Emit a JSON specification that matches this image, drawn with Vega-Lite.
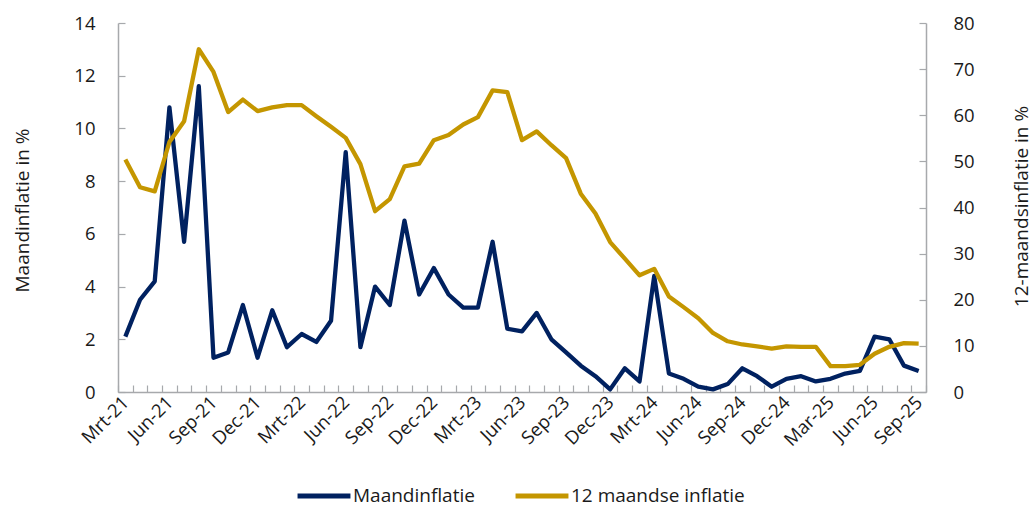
{
  "$schema": "https://vega.github.io/schema/vega-lite/v6.json",
  "autosize": {"type": "none"},
  "width": 808,
  "height": 369,
  "padding": {"left": 118, "top": 23, "right": 109, "bottom": 115},
  "background": "white",
  "config": {
    "view": {"stroke": null},
    "font": "Open Sans",
    "axis": {
      "labelFont": "Open Sans",
      "titleFont": "Open Sans",
      "labelFontSize": 18.5,
      "titleFontSize": 19,
      "labelColor": "#1a1a1a",
      "titleColor": "#1a1a1a",
      "titleFontWeight": "normal",
      "domainColor": "#a7a9ac",
      "domainWidth": 1.5,
      "tickColor": "#a7a9ac",
      "tickWidth": 1.2,
      "grid": false
    },
    "legend": {
      "labelFont": "Open Sans",
      "labelFontSize": 19,
      "labelColor": "#1a1a1a",
      "labelLimit": 400
    }
  },
  "data": {
    "values": [
      {"maand": "Mrt-21", "m": 2.1, "j": 50.4},
      {"maand": "Apr-21", "m": 3.5, "j": 44.4},
      {"maand": "Mei-21", "m": 4.2, "j": 43.5},
      {"maand": "Jun-21", "m": 10.8, "j": 54.2},
      {"maand": "Jul-21", "m": 5.7, "j": 58.7},
      {"maand": "Aug-21", "m": 11.6, "j": 74.3},
      {"maand": "Sep-21", "m": 1.3, "j": 69.4},
      {"maand": "Okt-21", "m": 1.5, "j": 60.7},
      {"maand": "Nov-21", "m": 3.3, "j": 63.4},
      {"maand": "Dec-21", "m": 1.3, "j": 60.9},
      {"maand": "Jan-22", "m": 3.1, "j": 61.7},
      {"maand": "Feb-22", "m": 1.7, "j": 62.2},
      {"maand": "Mrt-22", "m": 2.2, "j": 62.2},
      {"maand": "Apr-22", "m": 1.9, "j": 59.8},
      {"maand": "Mei-22", "m": 2.7, "j": 57.5},
      {"maand": "Jun-22", "m": 9.1, "j": 55.1},
      {"maand": "Jul-22", "m": 1.7, "j": 49.4},
      {"maand": "Aug-22", "m": 4.0, "j": 39.2},
      {"maand": "Sep-22", "m": 3.3, "j": 41.8},
      {"maand": "Okt-22", "m": 6.5, "j": 48.9},
      {"maand": "Nov-22", "m": 3.7, "j": 49.5},
      {"maand": "Dec-22", "m": 4.7, "j": 54.6},
      {"maand": "Jan-23", "m": 3.7, "j": 55.7},
      {"maand": "Feb-23", "m": 3.2, "j": 58.0},
      {"maand": "Mrt-23", "m": 3.2, "j": 59.6},
      {"maand": "Apr-23", "m": 5.7, "j": 65.4},
      {"maand": "Mei-23", "m": 2.4, "j": 65.0},
      {"maand": "Jun-23", "m": 2.3, "j": 54.6},
      {"maand": "Jul-23", "m": 3.0, "j": 56.5},
      {"maand": "Aug-23", "m": 2.0, "j": 53.5},
      {"maand": "Sep-23", "m": 1.5, "j": 50.7},
      {"maand": "Okt-23", "m": 1.0, "j": 43.0},
      {"maand": "Nov-23", "m": 0.6, "j": 38.7},
      {"maand": "Dec-23", "m": 0.1, "j": 32.5},
      {"maand": "Jan-24", "m": 0.9, "j": 28.9},
      {"maand": "Feb-24", "m": 0.4, "j": 25.3},
      {"maand": "Mrt-24", "m": 4.4, "j": 26.7},
      {"maand": "Apr-24", "m": 0.7, "j": 20.7},
      {"maand": "Mei-24", "m": 0.5, "j": 18.4},
      {"maand": "Jun-24", "m": 0.2, "j": 16.0},
      {"maand": "Jul-24", "m": 0.1, "j": 12.8},
      {"maand": "Aug-24", "m": 0.3, "j": 11.0},
      {"maand": "Sep-24", "m": 0.9, "j": 10.3},
      {"maand": "Okt-24", "m": 0.6, "j": 9.9},
      {"maand": "Nov-24", "m": 0.2, "j": 9.4},
      {"maand": "Dec-24", "m": 0.5, "j": 9.9},
      {"maand": "Jan-25", "m": 0.6, "j": 9.8},
      {"maand": "Feb-25", "m": 0.4, "j": 9.8},
      {"maand": "Mar-25", "m": 0.5, "j": 5.6},
      {"maand": "Apr-25", "m": 0.7, "j": 5.6},
      {"maand": "Mei-25", "m": 0.8, "j": 5.9},
      {"maand": "Jun-25", "m": 2.1, "j": 8.3},
      {"maand": "Jul-25", "m": 2.0, "j": 9.8},
      {"maand": "Aug-25", "m": 1.0, "j": 10.6},
      {"maand": "Sep-25", "m": 0.8, "j": 10.5}
    ]
  },
  "encoding": {
    "x": {
      "field": "maand",
      "type": "ordinal",
      "sort": null,
      "bandPosition": 0.5,
      "scale": {"type": "band", "paddingInner": 0, "paddingOuter": 0},
      "axis": {
        "title": null,
        "tickBand": "extent",
        "tickSize": -7,
        "labelPadding": 14,
        "labelAngle": -45,
        "labelAlign": "right",
        "labelBaseline": "middle",
        "labelOverlap": false,
        "labelExpr": "indexof(['Mrt','Jun','Sep','Dec','Mar'], slice(datum.label, 0, 3)) >= 0 ? datum.label : ''"
      }
    }
  },
  "layer": [
    {
      "mark": {"type": "line", "strokeWidth": 4.3, "strokeJoin": "round", "strokeCap": "butt"},
      "encoding": {
        "y": {
          "field": "m",
          "type": "quantitative",
          "scale": {"domain": [0, 14], "nice": false},
          "axis": {
            "title": "Maandinflatie in %",
            "values": [0, 2, 4, 6, 8, 10, 12, 14],
            "orient": "left",
            "tickSize": -7,
            "labelPadding": 30,
            "titleX": -96,
            "titleY": 187,
            "titleAngle": -90,
            "titleBaseline": "middle",
            "titleAlign": "center"
          }
        },
        "color": {
          "datum": "Maandinflatie",
          "type": "nominal",
          "scale": {"domain": ["Maandinflatie", "12 maandse inflatie"], "range": ["#002160", "#C49600"]},
          "legend": {
            "title": null,
            "orient": "none",
            "direction": "horizontal",
            "legendX": 177,
            "legendY": 444,
            "symbolType": "stroke",
            "symbolSize": 2800,
            "symbolStrokeWidth": 5,
            "labelOffset": 0,
            "columnPadding": 30,
            "padding": 0
          }
        }
      }
    },
    {
      "mark": {"type": "line", "strokeWidth": 4.3, "strokeJoin": "round", "strokeCap": "butt"},
      "encoding": {
        "y": {
          "field": "j",
          "type": "quantitative",
          "scale": {"domain": [0, 80], "nice": false},
          "axis": {
            "title": "12-maandsinflatie in %",
            "values": [0, 10, 20, 30, 40, 50, 60, 70, 80],
            "orient": "right",
            "tickSize": -7,
            "labelPadding": 34,
            "titleX": 95,
            "titleY": 183,
            "titleAngle": -90,
            "titleBaseline": "middle",
            "titleAlign": "center"
          }
        },
        "color": {"datum": "12 maandse inflatie", "type": "nominal"}
      }
    }
  ],
  "resolve": {"scale": {"y": "independent"}}
}
